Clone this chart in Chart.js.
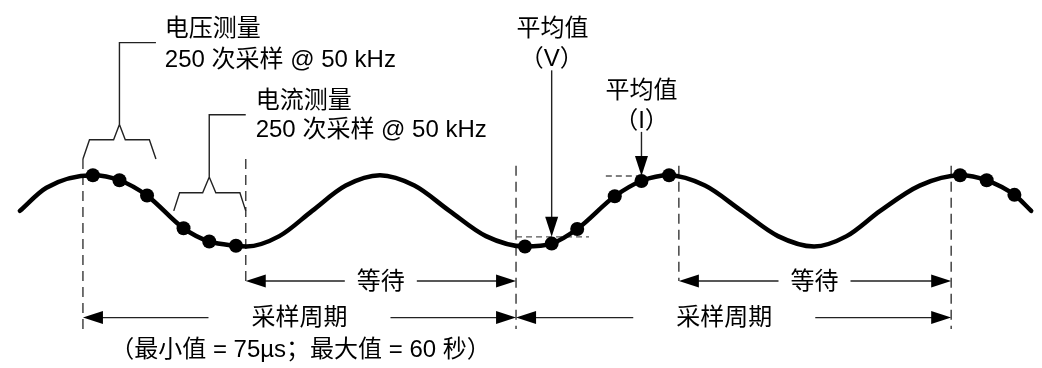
<!DOCTYPE html>
<html>
<head>
<meta charset="utf-8">
<script src="https://cdn.jsdelivr.net/npm/chart.js@4"></script>
<style>
html, body { margin: 0; padding: 0; background: #fff; }
#wrap { width: 1042px; height: 368px; position: relative; }
</style>
</head>
<body>
<div id="wrap"><canvas id="chart"></canvas></div>
<script>
// time in ms (50 Hz mains -> 20 ms per cycle), level normalised to +/-1
var waveT = [0.88, 2.70, 5.88, 7.70, 9.59, 12.09, 13.85, 15.68, 16.40, 18.65, 20.90, 23.20, 25.54, 27.90, 30.30, 32.80,
             35.47, 37.30, 39.05, 41.62, 43.45, 45.34, 47.80, 50.30, 52.80, 55.27, 57.50, 59.80, 62.50,
             65.27, 67.09, 68.99, 70.14];
var waveA = [0.0, 0.65, 1.0, 0.86, 0.43, -0.49, -0.86, -0.98, -1.0, -0.71, 0.0, 0.71, 1.0, 0.71, 0.0, -0.71,
             -1.0, -0.92, -0.51, 0.41, 0.84, 1.0, 0.71, 0.0, -0.71, -1.0, -0.71, 0.0, 0.71,
             1.0, 0.86, 0.45, 0.0];

// sample dots (voltage, current, voltage, current, voltage)
var sampleT = [5.88, 7.70, 9.59, 12.09, 13.85, 15.68, 35.47, 37.30, 39.05, 41.62, 43.45, 45.34, 65.27, 67.09, 68.99];
var sampleA = [1.0, 0.86, 0.43, -0.49, -0.86, -0.98, -1.0, -0.92, -0.51, 0.41, 0.84, 1.0, 1.0, 0.86, 0.45];

// dashed boundaries
var markerT = [5.20, 16.35, 34.86, 46.01, 64.66];
var markerTop = [1.46, 1.46, 1.27, 1.27, 1.27];
var markerBottom = [-3.32, -1.97, -3.32, -1.97, -3.32];

// averages
var meanV = -0.73, meanVFrom = 34.86, meanVTo = 39.86, meanVAt = 37.30;
var meanI = 0.98, meanIFrom = 41.01, meanITo = 43.45, meanIAt = 43.45;

// time spans under the wave
var spanFrom = [16.35, 5.20, 46.01, 34.86];
var spanTo = [34.86, 34.86, 64.66, 64.66];
var spanLevel = [-1.97, -3.0, -1.97, -3.0];
var spanLabel = ['等待', '采样周期', '等待', '采样周期'];
var spanLabelT = [25.6, 20.03, 55.3, 49.12];

var FONT = '24px "Liberation Sans", "Noto Sans CJK SC", sans-serif';

var texts = [
    {t: 10.81, a: 5.11, text: '电压测量', align: 'left'},
    {t: 10.81, a: 4.22, text: '250 次采样 @ 50 kHz', align: 'left'},
    {t: 17.03, a: 3.08, text: '电流测量', align: 'left'},
    {t: 17.03, a: 2.27, text: '250 次采样 @ 50 kHz', align: 'left'},
    {t: 37.36, a: 5.11, text: '平均值', align: 'center'},
    {t: 37.30, a: 4.27, text: '（V）', align: 'center'},
    {t: 43.45, a: 3.35, text: '平均值', align: 'center'},
    {t: 43.45, a: 2.51, text: '（I）', align: 'center'},
    {t: 20.10, a: -3.92, text: '（最小值 = 75µs；最大值 = 60 秒）', align: 'center'}
];

var brackets = [
    {from: 5.20, to: 10.20, legBottom: 1.46, legTop: 2.0, inset: 0.45, mid: 7.70, notch: 0.4, apex: 2.43, stemTop: 4.73, leaderTo: 10.20},
    {from: 11.42, to: 16.35, legBottom: 0.0, legTop: 0.51, inset: 0.4, mid: 13.85, notch: 0.45, apex: 0.95, stemTop: 2.70, leaderTo: 16.35}
];

function pt(chart, t, a) {
    return [chart.scales.x.getPixelForValue(t), chart.scales.y.getPixelForValue(a)];
}

function head(ctx, x, y, dir) {
    var len = 20, hw = 6.5;
    ctx.beginPath();
    ctx.moveTo(x, y);
    if (dir === 'left') { ctx.lineTo(x + len, y - hw); ctx.lineTo(x + len, y + hw); }
    else if (dir === 'right') { ctx.lineTo(x - len, y - hw); ctx.lineTo(x - len, y + hw); }
    else { ctx.lineTo(x - hw, y - len); ctx.lineTo(x + hw, y - len); }
    ctx.closePath();
    ctx.fill();
}

var notes = {
    id: 'notes',
    afterDatasetsDraw: function (chart) {
        var ctx = chart.ctx;
        ctx.save();
        ctx.fillStyle = '#000';
        ctx.strokeStyle = '#222';
        ctx.lineWidth = 1.4;

        // brackets
        brackets.forEach(function (b) {
            ctx.beginPath();
            var p = pt(chart, b.from, b.legBottom); ctx.moveTo(p[0], p[1]);
            p = pt(chart, b.from + b.inset, b.legTop); ctx.lineTo(p[0], p[1]);
            p = pt(chart, b.mid - b.notch, b.legTop); ctx.lineTo(p[0], p[1]);
            p = pt(chart, b.mid, b.apex); ctx.lineTo(p[0], p[1]);
            p = pt(chart, b.mid + b.notch, b.legTop); ctx.lineTo(p[0], p[1]);
            p = pt(chart, b.to - b.inset, b.legTop); ctx.lineTo(p[0], p[1]);
            p = pt(chart, b.to, b.legBottom); ctx.lineTo(p[0], p[1]);
            p = pt(chart, b.mid, b.apex); ctx.moveTo(p[0], p[1]);
            p = pt(chart, b.mid, b.stemTop); ctx.lineTo(p[0], p[1]);
            p = pt(chart, b.leaderTo, b.stemTop); ctx.lineTo(p[0], p[1]);
            ctx.stroke();
        });

        // average arrows
        [[meanVAt, 3.95, meanV], [meanIAt, 2.22, meanI]].forEach(function (r) {
            var top = pt(chart, r[0], r[1]), tip = pt(chart, r[0], r[2]);
            ctx.beginPath();
            ctx.moveTo(top[0], top[1]);
            ctx.lineTo(tip[0], tip[1] - 10);
            ctx.stroke();
            head(ctx, tip[0], tip[1], 'down');
        });

        // spans
        ctx.font = FONT;
        ctx.textBaseline = 'middle';
        ctx.textAlign = 'center';
        var pads = {'等待': 12, '采样周期': 43};
        spanFrom.forEach(function (f, i) {
            var a = pt(chart, f, spanLevel[i]), b = pt(chart, spanTo[i], spanLevel[i]);
            var c = chart.scales.x.getPixelForValue(spanLabelT[i]);
            var half = ctx.measureText(spanLabel[i]).width / 2 + pads[spanLabel[i]];
            ctx.beginPath();
            ctx.moveTo(a[0] + 10, a[1]); ctx.lineTo(c - half, a[1]);
            ctx.moveTo(c + half, b[1]); ctx.lineTo(b[0] - 10, b[1]);
            ctx.stroke();
            head(ctx, a[0], a[1], 'left');
            head(ctx, b[0], b[1], 'right');
            ctx.fillText(spanLabel[i], c, a[1] + 1);
        });

        // labels
        texts.forEach(function (s) {
            var p = pt(chart, s.t, s.a);
            ctx.textAlign = s.align;
            ctx.fillText(s.text, p[0], p[1]);
        });
        ctx.restore();
    }
};

var datasets = [
    {
        label: 'samples',
        data: sampleT.map(function (t, i) { return {x: t, y: sampleA[i]}; }),
        pointRadius: 7,
        pointBackgroundColor: '#000',
        pointBorderWidth: 0,
        showLine: false,
        clip: false
    },
    {
        label: 'wave',
        data: waveT.map(function (t, i) { return {x: t, y: waveA[i]}; }),
        showLine: true,
        borderColor: '#000',
        borderWidth: 4.5,
        borderCapStyle: 'round',
        cubicInterpolationMode: 'monotone',
        pointRadius: 0,
        clip: false
    },
    {
        label: 'meanV',
        data: [{x: meanVFrom, y: meanV}, {x: meanVTo, y: meanV}],
        showLine: true, borderColor: '#555', borderWidth: 1.4, borderDash: [6, 4], pointRadius: 0
    },
    {
        label: 'meanI',
        data: [{x: meanIFrom, y: meanI}, {x: meanITo, y: meanI}],
        showLine: true, borderColor: '#555', borderWidth: 1.4, borderDash: [6, 4], pointRadius: 0
    }
];

markerT.forEach(function (t, i) {
    datasets.push({
        label: 'marker' + i,
        data: [{x: t, y: markerTop[i]}, {x: t, y: markerBottom[i]}],
        showLine: true,
        borderColor: '#444',
        borderWidth: 1.5,
        borderDash: [10, 6],
        pointRadius: 0
    });
});

new Chart(document.getElementById('chart'), {
    type: 'scatter',
    data: {datasets: datasets},
    options: {
        responsive: true,
        maintainAspectRatio: false,
        animation: false,
        events: [],
        layout: {padding: 0},
        plugins: {legend: {display: false}, tooltip: {enabled: false}},
        scales: {
            x: {type: 'linear', min: 0, max: 70.4, display: false},
            y: {type: 'linear', min: -4.22, max: 5.73, display: false}
        }
    },
    plugins: [notes]
});
</script>
</body>
</html>
